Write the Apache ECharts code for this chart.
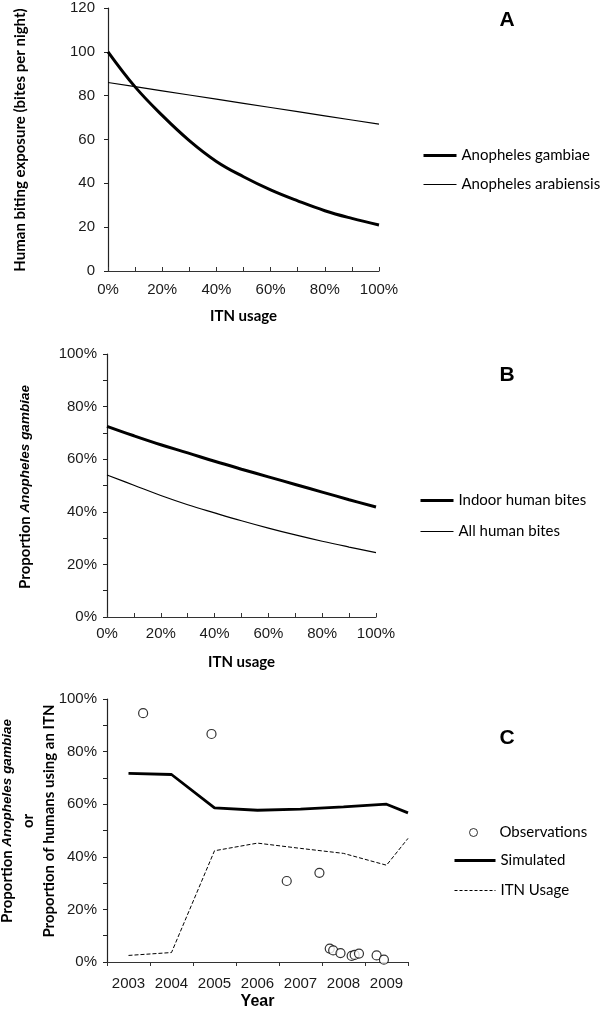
<!DOCTYPE html>
<html>
<head>
<meta charset="utf-8">
<script src="https://cdn.jsdelivr.net/npm/echarts@6/dist/echarts.min.js"></script>
<style>html,body{margin:0;padding:0;background:#fff}#c{width:600px;height:1014px}</style>
</head>
<body>
<div id="c"></div>
<script>
// ---------- Panel A ----------
const usageA = [0, 10, 20, 30, 40, 50, 60, 70, 80, 90, 100];
const gambiaeA = [100, 84, 71, 59.5, 50, 43, 37, 32, 27.5, 24, 21];
const arabiensisA = [86, 84.1, 82.2, 80.3, 78.4, 76.5, 74.6, 72.7, 70.8, 68.9, 67];
// ---------- Panel B ----------
const usageB = [0, 10, 20, 30, 40, 50, 60, 70, 80, 90, 100];
const indoorB = [72.5, 68.9, 65.5, 62.4, 59.2, 56.2, 53.3, 50.4, 47.5, 44.6, 41.8];
const allB = [54, 50.1, 46.2, 42.7, 39.6, 36.6, 33.8, 31.2, 28.8, 26.6, 24.5];
// ---------- Panel C ----------
const yearLabels = ['2003', '2004', '2005', '2006', '2007', '2008', '2009'];
const simYears = [2003.5, 2004.5, 2005.5, 2006.5, 2007.5, 2008.5, 2009.5, 2010];
const simulated = [71.7, 71.3, 58.6, 57.7, 58.1, 59.0, 60.0, 56.7];
const itnUsage = [2.5, 3.6, 42.3, 45.2, 43.2, 41.3, 36.8, 47];
const obsYears = [2003.84, 2005.43, 2007.18, 2007.94, 2008.18, 2008.26, 2008.43, 2008.69, 2008.76, 2008.86, 2009.27, 2009.44];
const observations = [94.6, 86.7, 30.8, 33.9, 5.1, 4.4, 3.4, 2.3, 2.7, 3.2, 2.5, 0.9];

const pairs = (xs, ys) => xs.map((x, i) => [x, ys[i]]);

const tickFont = { fontFamily: 'Liberation Sans', fontSize: 15, color: '#1a1a1a' };
const axisLineStyle = { lineStyle: { color: '#333', width: 1.2 } };
const titleFont = 'bold 15px Lato';
const italicFont = 'italic bold 13.5px "Liberation Sans"';
const legendText = { fontFamily: 'Lato', fontSize: 15, color: '#000' };
const noSymbol = { color: 'transparent', borderColor: 'transparent', borderWidth: 0 };
const thick = { width: 3, color: '#000' };
const thin = { width: 1, color: '#000' };

const chart = echarts.init(document.getElementById('c'), null, { renderer: 'canvas' });

const option = {
  animation: false,
  backgroundColor: '#fff',
  grid: [
    { left: 108, top: 8, width: 271, height: 263 },
    { left: 107, top: 354, width: 269, height: 263 },
    { left: 107, top: 699, width: 301, height: 263 }
  ],
  xAxis: [
    { gridIndex: 0, type: 'value', min: 0, max: 100, interval: 20,
      axisLine: axisLineStyle, axisTick: { inside: true, length: 4, lineStyle: { color: '#333' } },
      minorTick: { show: true, splitNumber: 2, length: 4, lineStyle: { color: '#333' } },
      splitLine: { show: false },
      axisLabel: Object.assign({ formatter: '{value}%', margin: 11 }, tickFont),
      name: 'ITN usage', nameLocation: 'middle', nameGap: 38,
      nameTextStyle: { fontFamily: 'Lato', fontWeight: 'bold', fontSize: 15, color: '#000' } },
    { gridIndex: 1, type: 'value', min: 0, max: 100, interval: 20,
      axisLine: axisLineStyle, axisTick: { inside: true, length: 4, lineStyle: { color: '#333' } },
      minorTick: { show: true, splitNumber: 2, length: 4, lineStyle: { color: '#333' } },
      splitLine: { show: false },
      axisLabel: Object.assign({ formatter: '{value}%', margin: 9 }, tickFont),
      name: 'ITN usage', nameLocation: 'middle', nameGap: 38,
      nameTextStyle: { fontFamily: 'Lato', fontWeight: 'bold', fontSize: 15, color: '#000' } },
    { gridIndex: 2, type: 'category', data: yearLabels, boundaryGap: true,
      axisLine: axisLineStyle, axisTick: { show: true, length: 4, alignWithLabel: false, interval: 0, lineStyle: { color: '#333' } },
      splitLine: { show: false },
      axisLabel: Object.assign({ margin: 14, interval: 0 }, tickFont),
      name: 'Year', nameLocation: 'middle', nameGap: 32,
      nameTextStyle: { fontFamily: 'Liberation Sans', fontWeight: 'bold', fontSize: 16, color: '#000' } },
    { gridIndex: 2, type: 'value', min: 2003, max: 2010, show: false, splitLine: { show: false } }
  ],
  yAxis: [
    { gridIndex: 0, type: 'value', min: 0, max: 120, interval: 20,
      axisLine: { show: true, lineStyle: { color: '#222', width: 1.2 } },
      axisTick: { show: true, length: 4, lineStyle: { color: '#222' } },
      splitLine: { show: false },
      axisLabel: Object.assign({ margin: 13 }, tickFont) },
    { gridIndex: 1, type: 'value', min: 0, max: 100, interval: 20,
      axisLine: { show: true, lineStyle: { color: '#222', width: 1.2 } },
      axisTick: { show: true, length: 4, lineStyle: { color: '#222' } },
      minorTick: { show: true, splitNumber: 2, length: 4, lineStyle: { color: '#222' } },
      splitLine: { show: false },
      axisLabel: Object.assign({ formatter: '{value}%', margin: 10 }, tickFont) },
    { gridIndex: 2, type: 'value', min: 0, max: 100, interval: 20,
      axisLine: { show: true, lineStyle: { color: '#222', width: 1.2 } },
      axisTick: { show: true, length: 4, lineStyle: { color: '#222' } },
      minorTick: { show: true, splitNumber: 2, length: 4, lineStyle: { color: '#222' } },
      splitLine: { show: false },
      axisLabel: Object.assign({ formatter: '{value}%', margin: 10 }, tickFont) }
  ],
  legend: [
    { left: 422, top: 148, padding: 0, orient: 'vertical', itemWidth: 33, itemHeight: 14, itemGap: 14,
      itemStyle: noSymbol, textStyle: legendText,
      data: [{ name: 'Anopheles gambiae', lineStyle: thick }, { name: 'Anopheles arabiensis', lineStyle: thin }] },
    { left: 419, top: 493, padding: 0, orient: 'vertical', itemWidth: 33, itemHeight: 14, itemGap: 16,
      itemStyle: noSymbol, textStyle: legendText,
      data: [{ name: 'Indoor human bites', lineStyle: thick }, { name: 'All human bites', lineStyle: thin }] },
    { left: 469, top: 825, padding: 0, orient: 'vertical', itemWidth: 8, itemHeight: 8, itemGap: 0,
      textStyle: Object.assign({ padding: [0, 0, 0, 17] }, legendText),
      data: [{ name: 'Observations', icon: 'circle', itemStyle: { color: '#fff', borderColor: '#000', borderWidth: 1 } }] },
    { left: 453, top: 853, padding: 0, orient: 'vertical', itemWidth: 41, itemHeight: 14, itemGap: 15,
      itemStyle: noSymbol, textStyle: legendText,
      data: [{ name: 'Simulated', lineStyle: thick }, { name: 'ITN Usage', lineStyle: { width: 1, color: '#000', type: [3, 2] } }] }
  ],
  series: [
    { name: 'Anopheles gambiae', type: 'line', xAxisIndex: 0, yAxisIndex: 0, smooth: 0.4, symbol: 'none',
      data: pairs(usageA, gambiaeA), lineStyle: { color: '#000', width: 3 }, itemStyle: { color: '#000' } },
    { name: 'Anopheles arabiensis', type: 'line', xAxisIndex: 0, yAxisIndex: 0, symbol: 'none',
      data: pairs(usageA, arabiensisA), lineStyle: { color: '#000', width: 1.2 }, itemStyle: { color: '#000' } },
    { name: 'Indoor human bites', type: 'line', xAxisIndex: 1, yAxisIndex: 1, smooth: 0.4, symbol: 'none',
      data: pairs(usageB, indoorB), lineStyle: { color: '#000', width: 3 }, itemStyle: { color: '#000' } },
    { name: 'All human bites', type: 'line', xAxisIndex: 1, yAxisIndex: 1, smooth: 0.4, symbol: 'none',
      data: pairs(usageB, allB), lineStyle: { color: '#000', width: 1.2 }, itemStyle: { color: '#000' } },
    { name: 'Simulated', type: 'line', xAxisIndex: 3, yAxisIndex: 2, symbol: 'none',
      data: pairs(simYears, simulated), lineStyle: { color: '#000', width: 2.8 }, itemStyle: { color: '#000' } },
    { name: 'ITN Usage', type: 'line', xAxisIndex: 3, yAxisIndex: 2, symbol: 'none',
      data: pairs(simYears, itnUsage), lineStyle: { color: '#000', width: 1, type: [4, 2] }, itemStyle: { color: '#000' } },
    { name: 'Observations', type: 'scatter', xAxisIndex: 3, yAxisIndex: 2, symbol: 'circle', symbolSize: 9,
      data: pairs(obsYears, observations),
      itemStyle: { color: '#fff', borderColor: '#000', borderWidth: 1.2 } }
  ],
  graphic: [
    { type: 'text', x: 20, y: 140, rotation: Math.PI / 2,
      style: { text: 'Human biting exposure (bites per night)', font: titleFont, fill: '#000', align: 'center', verticalAlign: 'middle' } },
    { type: 'text', x: 25, y: 487, rotation: Math.PI / 2,
      style: { text: '{b|Proportion }{bi|Anopheles gambiae}', align: 'center', verticalAlign: 'middle',
        rich: { b: { font: titleFont, fill: '#000' }, bi: { font: italicFont, fill: '#000' } } } },
    { type: 'text', x: 28, y: 821, rotation: Math.PI / 2,
      style: { text: '{b|Proportion }{bi|Anopheles gambiae}\n{b|or}\n{b|Proportion of humans using an ITN}',
        align: 'center', verticalAlign: 'middle',
        rich: { b: { font: titleFont, fill: '#000', lineHeight: 21 }, bi: { font: italicFont, fill: '#000', lineHeight: 21 } } } },
    { type: 'text', x: 507, y: 20, style: { text: 'A', font: 'bold 21px Liberation Sans', fill: '#000', align: 'center', verticalAlign: 'middle' } },
    { type: 'text', x: 507, y: 375, style: { text: 'B', font: 'bold 21px Liberation Sans', fill: '#000', align: 'center', verticalAlign: 'middle' } },
    { type: 'text', x: 507, y: 738, style: { text: 'C', font: 'bold 21px Liberation Sans', fill: '#000', align: 'center', verticalAlign: 'middle' } }
  ]
};
chart.setOption(option);
</script>
</body>
</html>
